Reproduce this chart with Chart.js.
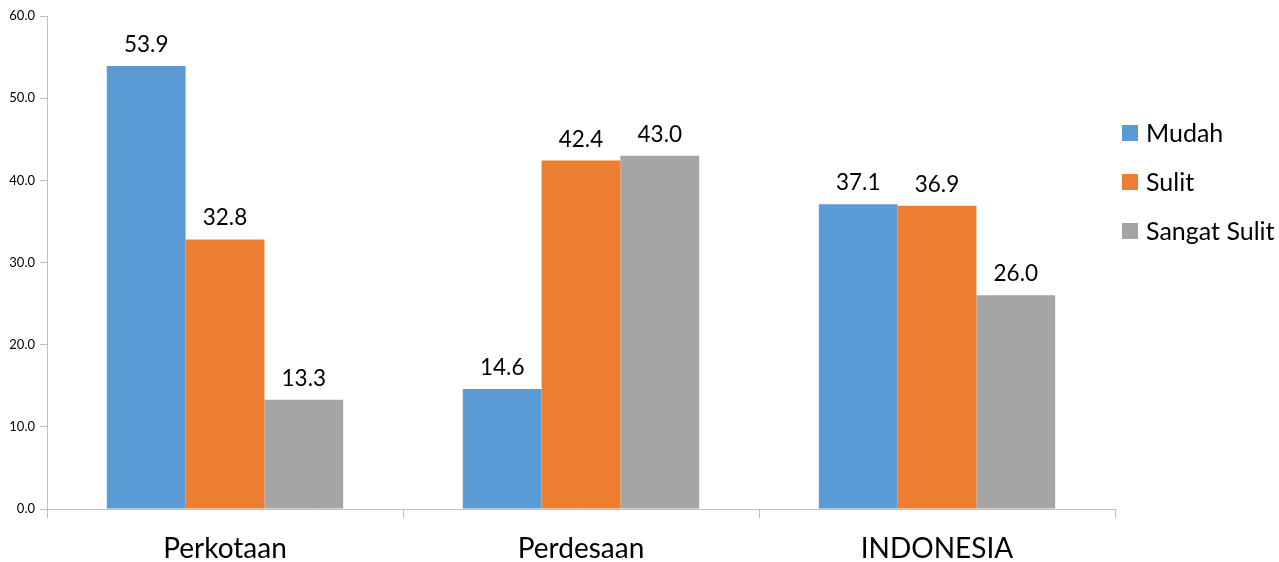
<!DOCTYPE html>
<html>
<head>
<meta charset="utf-8">
<script src="https://cdn.jsdelivr.net/npm/chart.js@4/dist/chart.umd.min.js"></script>
<style>
  html, body { margin: 0; padding: 0; background: #fff; }
  #wrap { width: 1279px; height: 562px; }
</style>
</head>
<body>
<div id="wrap"><canvas id="chart"></canvas></div>
<script>
const categories = ["Perkotaan", "Perdesaan", "INDONESIA"];
const mudah = [53.9, 14.6, 37.1];
const sulit = [32.8, 42.4, 36.9];
const sangatSulit = [13.3, 43.0, 26.0];
const seriesNames = ["Mudah", "Sulit", "Sangat Sulit"];
const seriesColors = ["#5B9BD5", "#ED7D31", "#A5A5A5"];

const fontFamily = "Lato, 'Open Sans', sans-serif";
const axisColor = "#bfbfbf";

// values above each bar
const valueLabels = {
  id: "valueLabels",
  afterDatasetsDraw(chart) {
    const ctx = chart.ctx;
    ctx.save();
    ctx.font = "22.5px " + fontFamily;
    ctx.fillStyle = "#000";
    ctx.textAlign = "center";
    ctx.textBaseline = "bottom";
    chart.data.datasets.forEach((ds, i) => {
      chart.getDatasetMeta(i).data.forEach((bar, j) => {
        ctx.fillText(ds.data[j].toFixed(1), bar.x, bar.y - 10);
      });
    });
    ctx.restore();
  },
};

// legend on the right, drawn by hand to match spacing
const sideLegend = {
  id: "sideLegend",
  afterDraw(chart) {
    const ctx = chart.ctx;
    const x = chart.chartArea.right + 7;
    ctx.save();
    ctx.font = "25px " + fontFamily;
    ctx.textBaseline = "middle";
    chart.data.datasets.forEach((ds, i) => {
      const y = 133 + i * 49;
      ctx.fillStyle = ds.backgroundColor;
      ctx.fillRect(x, y - 8, 16, 16);
      ctx.fillStyle = "#000";
      ctx.fillText(ds.label, x + 24, y + 1);
    });
    ctx.restore();
  },
};

new Chart(document.getElementById("chart"), {
  type: "bar",
  data: {
    labels: categories,
    datasets: [mudah, sulit, sangatSulit].map((vals, i) => ({
      label: seriesNames[i],
      data: vals,
      backgroundColor: seriesColors[i],
      borderWidth: 0,
      barPercentage: 1,
      categoryPercentage: 0.664,
    })),
  },
  options: {
    responsive: true,
    maintainAspectRatio: false,
    animation: false,
    layout: { padding: { top: 16, right: 164, left: 0, bottom: 0 } },
    plugins: {
      legend: { display: false },
      tooltip: { enabled: false },
    },
    scales: {
      x: {
        grid: {
          offset: true,
          drawOnChartArea: false,
          drawTicks: true,
          tickLength: 9,
          color: axisColor,
        },
        border: { color: axisColor, width: 1 },
        ticks: {
          color: "#000",
          font: { family: fontFamily, size: 28 },
          padding: 14,
        },
        afterFit(scale) { scale.height = 53; },
      },
      y: {
        min: 0,
        max: 60,
        ticks: {
          stepSize: 10,
          color: "#000",
          font: { family: fontFamily, size: 13 },
          padding: 5,
          callback: (v) => v.toFixed(1),
        },
        grid: {
          drawOnChartArea: false,
          drawTicks: true,
          tickLength: 7,
          color: axisColor,
        },
        border: { color: axisColor, width: 1 },
        afterFit(scale) { scale.width = 47; },
      },
    },
  },
  plugins: [valueLabels, sideLegend],
});
</script>
</body>
</html>
